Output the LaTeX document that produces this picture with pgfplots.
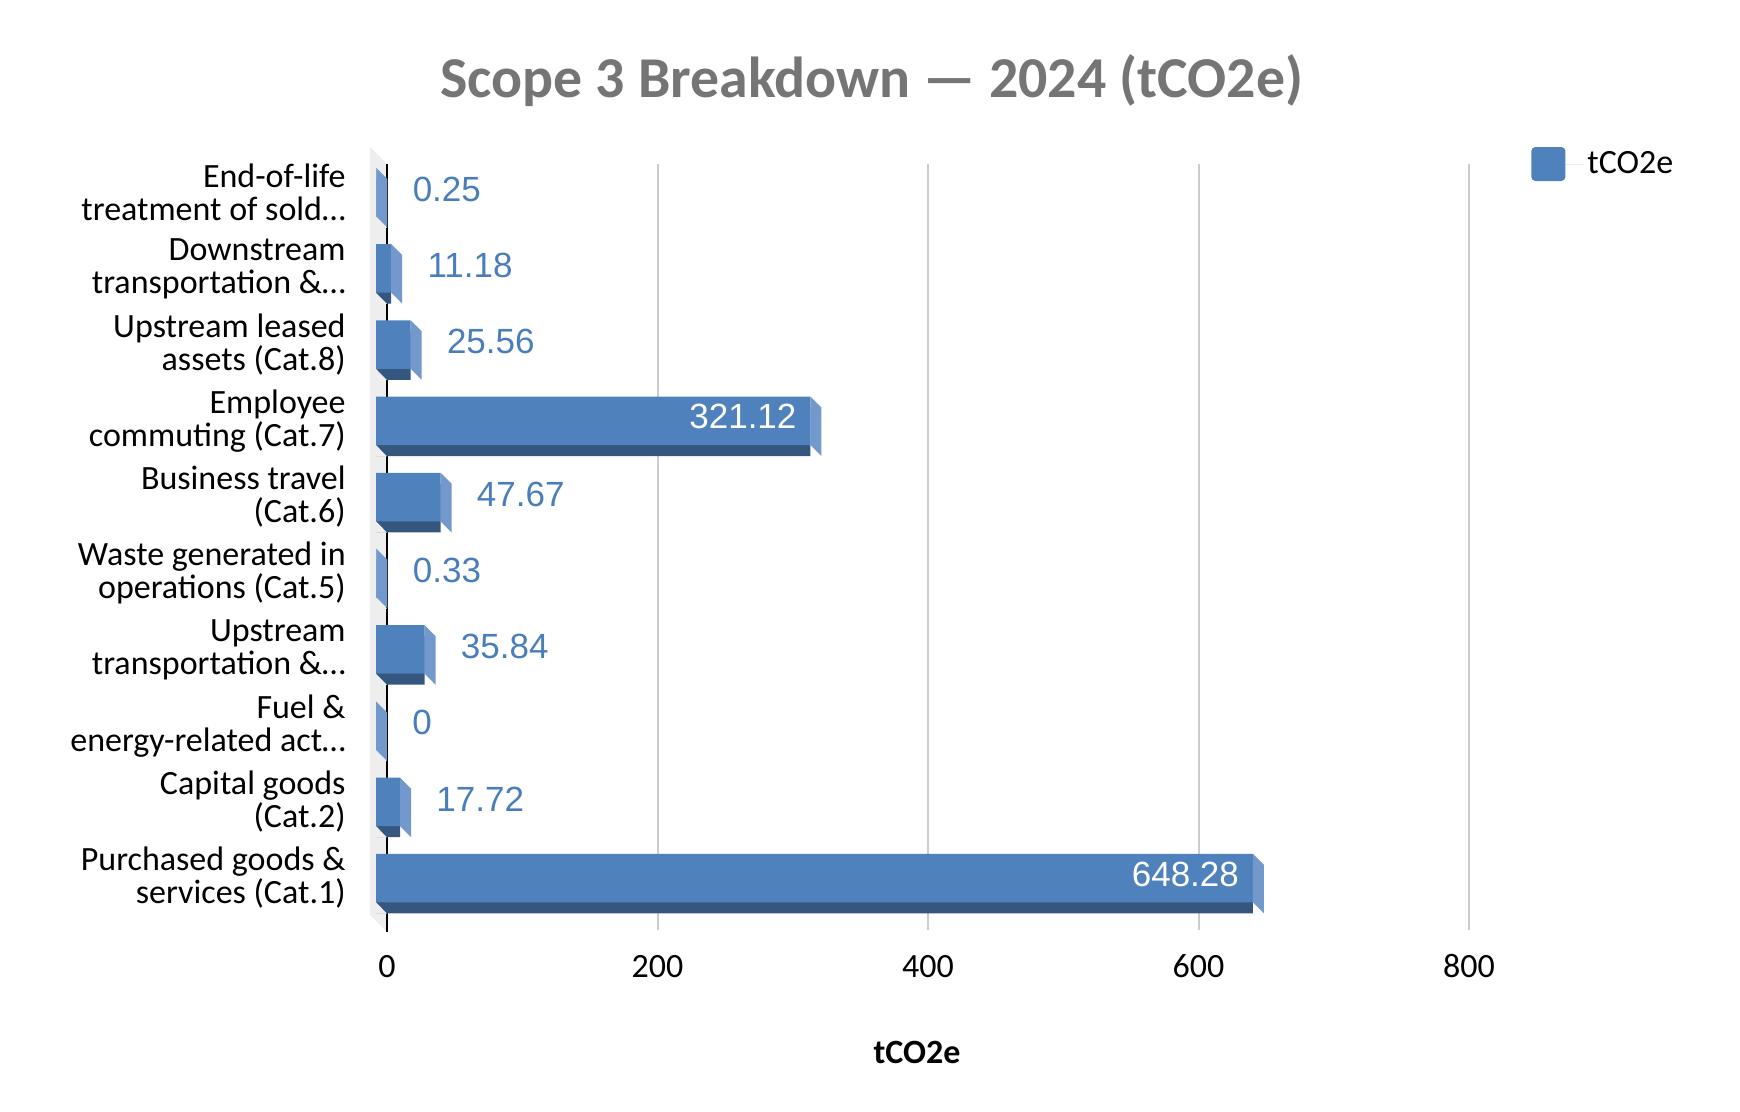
\documentclass[border=0pt]{standalone}
\usepackage{fontspec}
\setmainfont{Carlito}
\newfontfamily\labfont{Liberation Sans}
\usepackage{pgfplots}
\usepackage{pgfplotstable}
\pgfplotsset{compat=1.18}
\definecolor{cfront}{HTML}{4F81BD}
\definecolor{cside}{HTML}{7298CC}
\definecolor{cdark}{HTML}{35577F}
\definecolor{clab}{HTML}{4A7EBB}
\definecolor{ctitle}{HTML}{757575}
\definecolor{cgrid}{HTML}{CCCCCC}
\definecolor{cwall}{HTML}{EEEEEE}

\pgfdeclareplotmark{sideface}{%
  \pgfpathmoveto{\pgfpoint{-5.5pt}{12.125pt}}%
  \pgfpathlineto{\pgfpoint{0pt}{6.625pt}}%
  \pgfpathlineto{\pgfpoint{0pt}{-17.625pt}}%
  \pgfpathlineto{\pgfpoint{-5.5pt}{-12.125pt}}%
  \pgfpathclose\pgfusepathqfill}
\pgfdeclareplotmark{cutcorner}{%
  \pgfpathmoveto{\pgfpoint{-5.6pt}{-12.1pt}}%
  \pgfpathlineto{\pgfpoint{-5.6pt}{-17.8pt}}%
  \pgfpathlineto{\pgfpoint{0pt}{-17.8pt}}%
  \pgfpathclose\pgfusepathqfill}

\pgfplotstableread{
k v lab
0 648.28 648.28
1 17.72 17.72
2 0 0
3 35.84 35.84
4 0.33 0.33
5 47.67 47.67
6 321.12 321.12
7 25.56 25.56
8 11.18 11.18
9 0.25 0.25
}\datatable

\begin{document}
\begin{tikzpicture}
\path[use as bounding box] (-185pt,-91pt) rectangle (685pt,465pt);
\begin{axis}[
  at={(0pt,0pt)}, anchor=south west,
  scale only axis, width=549.5pt, height=383pt,
  xmin=-12.6, xmax=800, ymin=-0.682, ymax=9.370,
  clip=false,
  axis line style={draw=none},
  major tick length=0pt,
  xtick={0,200,400,600,800},
  xmajorgrids, grid style={cgrid, line width=1pt},
  ytick={0,...,9},
  yticklabels={
    {Purchased goods \&\\services (Cat.1)},
    {Capital goods\\(Cat.2)},
    {Fuel \&\\energy-related act…},
    {Upstream\\transportation \&…},
    {Waste generated in\\operations (Cat.5)},
    {Business travel\\(Cat.6)},
    {Employee\\commuting (Cat.7)},
    {Upstream leased\\assets (Cat.8)},
    {Downstream\\transportation \&…},
    {End-of-life\\treatment of sold…}},
  yticklabel style={font=\fontsize{17}{16.5}\selectfont, align=right, anchor=east, inner sep=0pt, xshift=-12pt},
  /pgf/number format/assume math mode=true,
  xticklabel style={font=\fontsize{17}{20}\selectfont, anchor=center, inner sep=0pt, yshift=-18.25pt},
  xlabel={tCO2e},
  xlabel style={at={(axis description cs:0.4977,-0.1593)}, anchor=center, font=\fontsize{17}{20}\selectfont\bfseries},
  legend style={at={(axis description cs:1.0564,1)}, anchor=west, draw=none, fill=none, inner sep=0pt, font=\fontsize{17}{20}\selectfont},
  legend image code/.code={\fill[cfront, rounded corners=2pt] (0pt,-8.5pt) rectangle (17pt,8.5pt); \path (0pt,0pt) -- (26pt,0pt);},
]
\fill[cwall] ([yshift=8.5pt]axis cs:-12.6,9.37) -- (axis cs:0,9.37) -- ([yshift=-1pt]axis cs:0,-0.682) -- ([yshift=7.5pt]axis cs:-12.6,-0.682) -- cycle;
\draw[black, line width=1.2pt] ([yshift=-1pt]axis cs:0,-0.682) -- (axis cs:0,9.37);

\addplot[xbar, bar width=24.25pt, bar shift=0pt, xshift=-5.5pt, yshift=-5.5pt, fill=cdark, draw=none, forget plot] table[x=v,y=k]{\datatable};
\addplot[only marks, mark=cutcorner, mark options={fill=cwall, draw=none}, forget plot] table[x expr=0, y=k]{\datatable};
\addplot[only marks, mark=sideface, mark options={fill=cside, draw=none}, forget plot] table[x=v,y=k]{\datatable};
\addplot[xbar, bar width=24.25pt, bar shift=0pt, xshift=-5.5pt, fill=cfront, draw=none] table[x=v,y=k]{\datatable};
\addlegendentry{tCO2e}

\addplot[draw=none, mark=none, forget plot, restrict x to domain=-1:100,
  nodes near coords, point meta=explicit symbolic,
  every node near coord/.append style={anchor=west, xshift=12.5pt, yshift=1.5pt, inner sep=0pt, font=\labfont\fontsize{17.5}{20}\selectfont, text=clab}]
  table[x=v,y=k,meta=lab]{\datatable};
\addplot[draw=none, mark=none, forget plot, restrict x to domain=100:1000,
  nodes near coords, point meta=explicit symbolic,
  every node near coord/.append style={anchor=east, xshift=-12.25pt, yshift=2pt, inner sep=0pt, font=\labfont\fontsize{17.5}{20}\selectfont, text=white}]
  table[x=v,y=k,meta=lab]{\datatable};
\end{axis}
\node[anchor=base, font=\fontsize{28.9}{30}\selectfont\bfseries, text=ctitle] at (250.9pt,416pt) {Scope 3 Breakdown — 2024 (tCO2e)};
\end{tikzpicture}
\end{document}
